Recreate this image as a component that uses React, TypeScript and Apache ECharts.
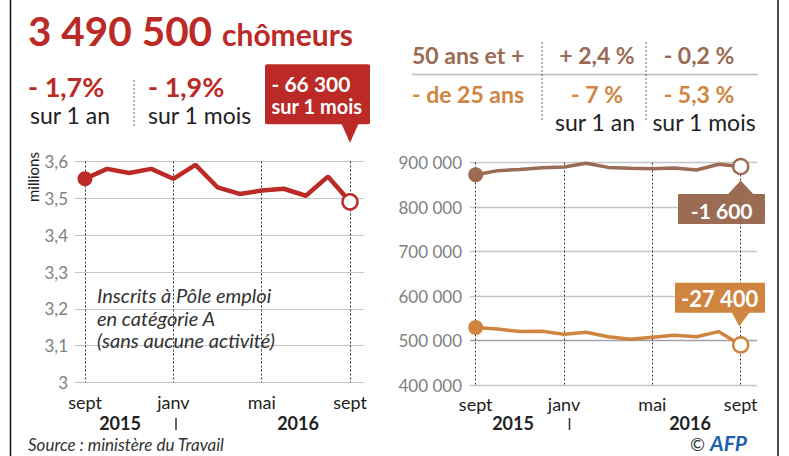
import React, { useEffect, useRef } from "react";
import * as echarts from "echarts";

// ---- data ----
const months = [
  "sept 2015", "oct 2015", "nov 2015", "déc 2015", "janv 2016", "févr 2016", "mars 2016",
  "avr 2016", "mai 2016", "juin 2016", "juil 2016", "août 2016", "sept 2016",
];
const totalMillions = [3.553, 3.58, 3.569, 3.58, 3.553, 3.591, 3.53, 3.512, 3.521, 3.526, 3.507, 3.559, 3.4905];
const over50 = [872400, 881700, 884300, 888400, 890000, 898500, 889000, 887000, 886200, 887600, 883000, 896000, 891000];
const under25 = [529000, 526000, 520000, 521000, 514000, 518500, 508500, 503000, 507500, 512000, 508500, 520000, 490000];
const leftAxis = { min: 3, max: 3.6, interval: 0.1 };
const rightAxis = { min: 400000, max: 900000, interval: 100000 };

const headline = "3 490 500";
const headlineUnit = "chômeurs";
const yearChange = "- 1,7%";
const monthChange = "- 1,9%";
const monthDiff = "- 66 300";
const over50Label = "50 ans et +";
const under25Label = "- de 25 ans";
const over50Changes = ["+ 2,4 %", "- 0,2 %"];
const under25Changes = ["- 7 %", "- 5,3 %"];
const over50Diff = "-1 600";
const under25Diff = "-27 400";
const years = ["2015", "2016"];

// ---- styles ----
const RED = "#bb2a26";
const BROWN = "#9b6b54";
const ORANGE = "#cf843f";
const DARK = "#222222";
const GRAY = "#808080";
const GRID = "#c6c6c6";
const FONT = "Lato";

function T(text: string, x: number, baseline: number, size: number, color: string, opts: any = {}) {
  const font = `${opts.italic ? "italic " : ""}${opts.bold ? "bold " : ""}${size}px ${FONT}`;
  const align = opts.align || "left";
  return {
    type: "text",
    x,
    y: baseline - 0.36 * size,
    rotation: opts.rotation || 0,
    silent: true,
    z: 20,
    style: {
      text,
      font,
      fill: color,
      textAlign: align,
      align,
      textVerticalAlign: "middle",
      verticalAlign: "middle",
    },
  };
}

function L(x1: number, y1: number, x2: number, y2: number, color: string, width: number, dash?: number[]) {
  return {
    type: "line",
    silent: true,
    z: 15,
    shape: { x1, y1, x2, y2 },
    style: { stroke: color, lineWidth: width, lineDash: dash },
  };
}

function seriesData(values: number[], color: string) {
  const last = values.length - 1;
  return values.map((v, i) => {
    if (i === 0) return { value: v, symbol: "circle", symbolSize: 15, itemStyle: { color } };
    if (i === last)
      return { value: v, symbol: "circle", symbolSize: 15, itemStyle: { color: "#fff", borderColor: color, borderWidth: 2.5 } };
    return { value: v, symbol: "none" };
  });
}

const catAxis = (gridIndex: number) => ({
  gridIndex,
  type: "category",
  data: months,
  boundaryGap: false,
  axisLine: { show: false },
  axisTick: { show: false },
  axisLabel: {
    interval: 3,
    formatter: (v: string) => v.split(" ")[0],
    color: DARK,
    fontSize: 18,
    fontFamily: FONT,
    lineHeight: 18,
    margin: 10,
  },
  splitLine: { show: true, interval: 3, lineStyle: { color: "#333", width: 1, type: [2, 2] } },
});

export default function App() {
  const ref = useRef<HTMLDivElement>(null);
  useEffect(() => {
    document.body.style.margin = "0";
    if (!ref.current) return;
    const chart = echarts.init(ref.current, undefined, { renderer: "svg" });
    const option: any = {
      animation: false,
      backgroundColor: "#ffffff",
      grid: [
        { left: 75, top: 161.5, width: 289, height: 221 },
        { left: 85, top: 161.5, width: 265, height: 221 },
        { left: 470, top: 162.5, width: 287, height: 222.5 },
        { left: 475.7, top: 162.5, width: 265, height: 222.5 },
      ],
      xAxis: [
        { gridIndex: 0, type: "value", show: false, min: 0, max: 1 },
        catAxis(1),
        { gridIndex: 2, type: "value", show: false, min: 0, max: 1 },
        catAxis(3),
      ],
      yAxis: [
        {
          gridIndex: 0,
          type: "value",
          ...leftAxis,
          axisLine: { show: false },
          axisTick: { show: false },
          axisLabel: {
            formatter: (v: number) => (Math.round(v * 10) / 10).toString().replace(".", ","),
            color: GRAY,
            fontSize: 17,
            fontFamily: FONT,
            margin: 7,
          },
          splitLine: { lineStyle: { color: GRID, width: 1 } },
        },
        { gridIndex: 1, type: "value", ...leftAxis, show: false },
        {
          gridIndex: 2,
          type: "value",
          ...rightAxis,
          axisLine: { show: false },
          axisTick: { show: false },
          axisLabel: {
            formatter: (v: number) => `${Math.round(v / 1000)} 000`,
            color: GRAY,
            fontSize: 17,
            fontFamily: FONT,
            margin: 8,
          },
          splitLine: { lineStyle: { color: [GRID, "#a2a2a2", GRID, GRID, GRID, GRID], width: 1.3 } },
        },
        { gridIndex: 3, type: "value", ...rightAxis, show: false },
      ],
      series: [
        {
          type: "line",
          xAxisIndex: 1,
          yAxisIndex: 1,
          data: seriesData(totalMillions, RED),
          symbol: "circle",
          lineStyle: { color: RED, width: 4.5 },
          itemStyle: { color: RED },
          silent: true,
          z: 5,
        },
        {
          type: "line",
          xAxisIndex: 3,
          yAxisIndex: 3,
          data: seriesData(over50, BROWN),
          symbol: "circle",
          lineStyle: { color: BROWN, width: 3.5 },
          itemStyle: { color: BROWN },
          silent: true,
          z: 5,
        },
        {
          type: "line",
          xAxisIndex: 3,
          yAxisIndex: 3,
          data: seriesData(under25, ORANGE),
          symbol: "circle",
          lineStyle: { color: ORANGE, width: 3.5 },
          itemStyle: { color: ORANGE },
          silent: true,
          z: 5,
        },
      ],
    };
    chart.setOption(option);

    const last = months.length - 1;
    const pR = chart.convertToPixel({ seriesIndex: 0 }, [last, totalMillions[last]]) as number[];
    const pB = chart.convertToPixel({ seriesIndex: 1 }, [last, over50[last]]) as number[];
    const pO = chart.convertToPixel({ seriesIndex: 2 }, [last, under25[last]]) as number[];

    const redTop = pR[1] - 137.5;
    const redBottom = redTop + 60;
    const bTop = pB[1] + 27.6;
    const oTop = pO[1] - 62.2;

    const graphics: any[] = [
      // frame
      L(10.5, 0, 10.5, 456, "#111", 1.5),
      L(778, 0, 778, 456, "#111", 1.5),
      // headline
      T(headline, 28, 45, 40.5, RED, { bold: true }),
      T(headlineUnit, 222, 45, 30, RED, { bold: true }),
      T(yearChange, 28, 96.5, 27, RED, { bold: true }),
      T("sur 1 an", 30, 123, 23, DARK),
      L(134, 80, 134, 127, "#666", 1, [2, 2]),
      T(monthChange, 148, 96.5, 27, RED, { bold: true }),
      T("sur 1 mois", 148, 123, 23, DARK),
      // right header
      T(over50Label, 412, 63, 23, BROWN, { bold: true }),
      T(over50Changes[0], 597, 63, 23, BROWN, { bold: true, align: "center" }),
      T(over50Changes[1], 699, 63, 23, BROWN, { bold: true, align: "center" }),
      L(412, 74.5, 758, 74.5, "#bbbbbb", 1.5),
      T(under25Label, 412, 102, 23, ORANGE, { bold: true }),
      T(under25Changes[0], 597, 102, 23, ORANGE, { bold: true, align: "center" }),
      T(under25Changes[1], 699, 102, 23, ORANGE, { bold: true, align: "center" }),
      T("sur 1 an", 595, 130, 23, DARK, { align: "center" }),
      T("sur 1 mois", 704, 130, 23, DARK, { align: "center" }),
      L(542, 42, 542, 120, "#666", 1, [2, 2]),
      L(646, 42, 646, 120, "#666", 1, [2, 2]),
      // left panel annotations
      {
        type: "text",
        x: 33,
        y: 177,
        rotation: Math.PI / 2,
        silent: true,
        z: 20,
        style: {
          text: "millions",
          font: `15px ${FONT}`,
          fill: DARK,
          textAlign: "center",
          align: "center",
          textVerticalAlign: "middle",
          verticalAlign: "middle",
        },
      },
      T("Inscrits à Pôle emploi", 97, 302, 20, "#333", { italic: true }),
      T("en catégorie A", 97, 325, 20, "#333", { italic: true }),
      T("(sans aucune activité)", 97, 347, 20, "#333", { italic: true }),
      // years
      T(years[0], 120, 429, 18, DARK, { bold: true, align: "center" }),
      T(years[1], 298, 429, 18, DARK, { bold: true, align: "center" }),
      L(176, 418, 176, 430, "#333", 1.5),
      T(years[0], 513, 429, 18, DARK, { bold: true, align: "center" }),
      T(years[1], 690, 429, 18, DARK, { bold: true, align: "center" }),
      L(569.5, 418, 569.5, 430, "#333", 1.5),
      // source & credit
      T("Source : ministère du Travail", 28, 451, 17, "#333", { italic: true }),
      T("©", 690, 450, 18, "#333"),
      T("AFP", 710, 450, 21, "#1d5fae", { bold: true, italic: true }),
      // red callout
      {
        type: "rect",
        silent: true,
        z: 18,
        shape: { x: pR[0] - 85, y: redTop, width: 105, height: 60, r: 2 },
        style: { fill: RED },
      },
      {
        type: "polygon",
        silent: true,
        z: 18,
        shape: { points: [[pR[0] - 8.5, redBottom - 0.5], [pR[0] + 8.5, redBottom - 0.5], [pR[0], pR[1] - 59]] },
        style: { fill: RED },
      },
      T(monthDiff, pR[0] - 78.5, redTop + 26.7, 21, "#fff", { bold: true }),
      T("sur 1 mois", pR[0] - 78.5, redTop + 48.7, 20, "#fff", { bold: true }),
      // brown callout
      {
        type: "rect",
        silent: true,
        z: 18,
        shape: { x: pB[0] - 62.7, y: bTop, width: 87, height: 30, r: 1 },
        style: { fill: BROWN },
      },
      {
        type: "polygon",
        silent: true,
        z: 18,
        shape: { points: [[pB[0] - 13, bTop + 0.5], [pB[0] + 13, bTop + 0.5], [pB[0], pB[1] + 14]] },
        style: { fill: BROWN },
      },
      T(over50Diff, pB[0] - 19, bTop + 23.7, 21, "#fff", { bold: true, align: "center" }),
      // orange callout
      {
        type: "rect",
        silent: true,
        z: 18,
        shape: { x: pO[0] - 65.7, y: oTop, width: 90, height: 30, r: 1 },
        style: { fill: ORANGE },
      },
      {
        type: "polygon",
        silent: true,
        z: 18,
        shape: { points: [[pO[0] - 9, oTop + 29.5], [pO[0] + 9, oTop + 29.5], [pO[0] - 1.5, pO[1] - 18.8]] },
        style: { fill: ORANGE },
      },
      T(under25Diff, pO[0] - 21, oTop + 23.4, 22, "#fff", { bold: true, align: "center" }),
    ];
    chart.setOption({ graphic: graphics });

    return () => chart.dispose();
  }, []);
  return <div ref={ref} style={{ position: "absolute", left: 0, top: 0, width: 789, height: 456 }} />;
}
